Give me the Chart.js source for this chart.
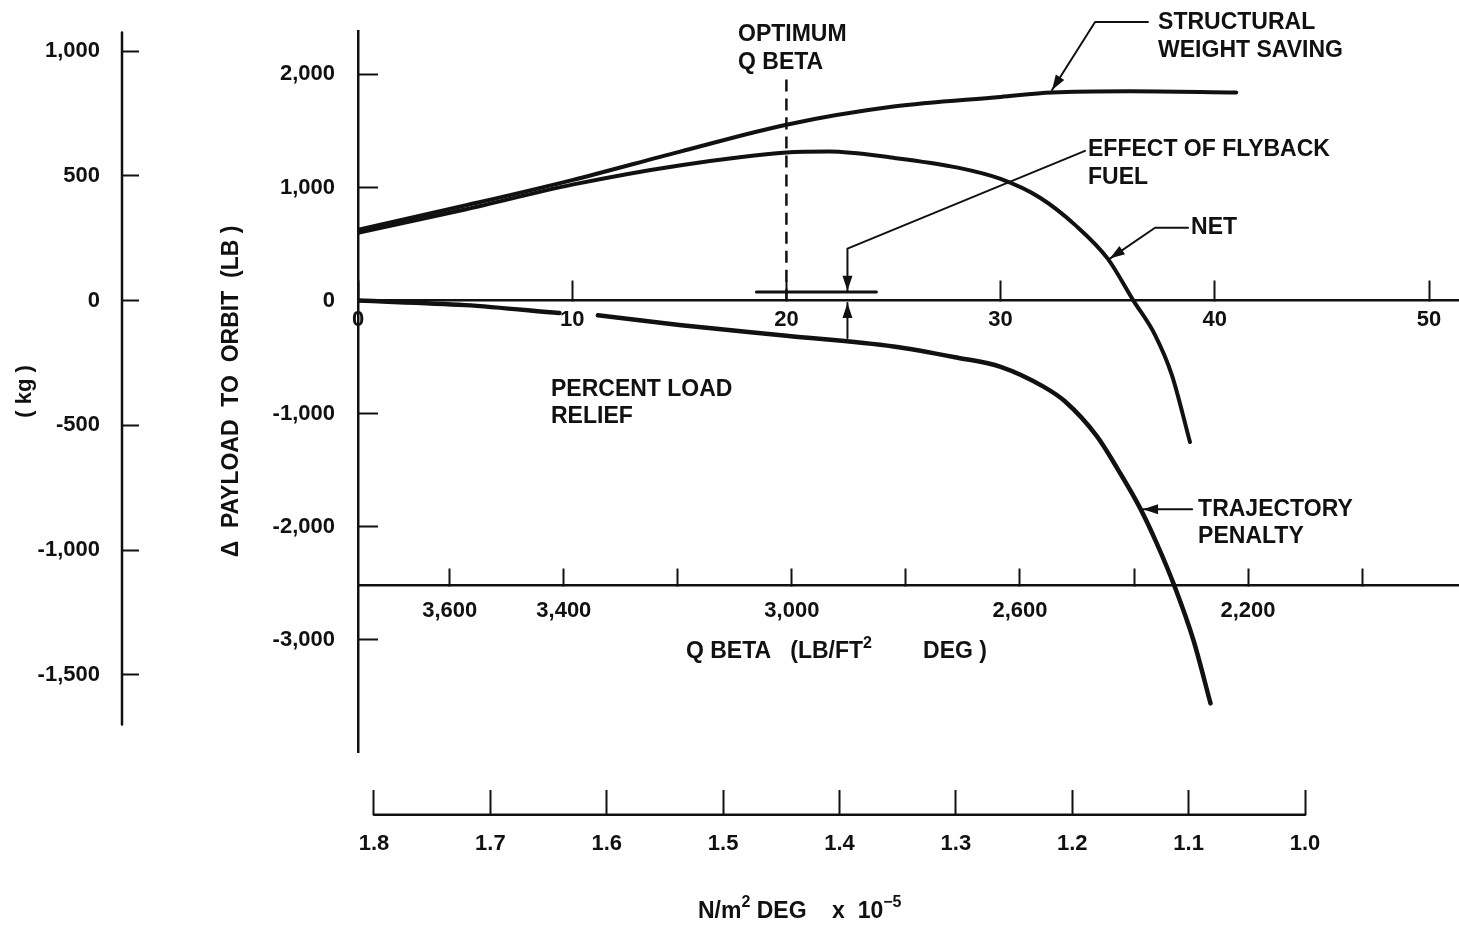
<!DOCTYPE html>
<html>
<head>
<meta charset="utf-8">
<title>Payload to orbit vs percent load relief</title>
<script src="https://cdn.jsdelivr.net/npm/chart.js@4.4.1/dist/chart.umd.min.js"></script>
<style>
    html, body { margin: 0; padding: 0; background: #fff; }
    #wrap { width: 1459px; height: 927px; }
</style>
</head>
<body>
<div id="wrap"><canvas id="payloadChart"></canvas></div>
<script>
const FONT = "'Liberation Sans', Arial, Helvetica, sans-serif";
const INK = '#111111';
const LB_PER_KG = 2.2046;

// curves: percent load relief -> delta payload (lb)
const structuralPct = [0, 5, 10, 15, 20, 25, 30, 32.4, 36, 41];
const structuralLb  = [625, 840, 1065, 1315, 1555, 1715, 1800, 1840, 1850, 1840];

const netPct = [0, 5, 10, 15, 20, 22, 25, 28, 30, 31.84, 33.5, 35, 36.2, 37.2, 38, 38.84];
const netLb  = [600, 805, 1025, 1195, 1310, 1318, 1262, 1175, 1075, 909, 665, 371, 0, -300, -660, -1250];

// gap near 10 % where the printed tick label breaks the curve
const trajectoryPct = [0, 5, 9.4, 10.3, 11.2, 15, 20, 25, 28, 30, 32, 33, 34.5, 35.5, 36.5, 37.3, 38.1, 39, 39.8];
const trajectoryLb  = [0, -40, -110, null, -130, -215, -310, -405, -505, -585, -760, -890, -1200, -1500, -1830, -2150, -2515, -3000, -3560];

// optimum Q beta marker and flyback fuel band
const optimumPct = 20;
const optimumLb = [0, 1980];
const flybackPct = [18.6, 24.2];
const flybackLb = 75;

// tick lists
const reliefTicks = [0, 10, 20, 30, 40, 50];
const lbTicks = [2000, 1000, 0, -1000, -2000, -3000];
const kgTicks = [1000, 500, 0, -500, -1000, -1500];
const qBetaTicks = [3600, 3400, 3200, 3000, 2800, 2600, 2400, 2200, 2000];
const qBetaLabelled = [3600, 3400, 3000, 2600, 2200];
const nmTicks = [1.8, 1.7, 1.6, 1.5, 1.4, 1.3, 1.2, 1.1, 1.0];

// scale ranges (Q beta and N/m2 run right to left)
const reliefRange = [0, 51.4];
const lbRange = [-3990, 2383];
const qBetaRange = [1830, 3761];
const nmRange = [0.8677, 1.8137];
const qBetaAxisAt = -2515;   // lb level of the Q beta scale
const nmAxisAt = -4545;      // lb level of the N/m2 scale
const kgAxisSpan = [1075, -1700];

const fmt = v => v.toLocaleString('en-US');
const toPoints = (xs, ys) => xs.map((x, i) => ({ x: x, y: ys[i] }));

// ticks pointing into the plot, no grid
function tickGrid(len) {
    return { drawOnChartArea: false, drawTicks: true, tickLength: -len, tickWidth: 2, tickColor: INK };
}
function fixedTicks(list) {
    return scale => { scale.ticks = list.map(v => ({ value: v })); };
}
// keep the layout from adding label padding; optional fixed width for left axes
function trimScale(width) {
    return scale => {
        if (width) scale.width = width;
        scale.paddingLeft = scale.paddingRight = scale.paddingTop = scale.paddingBottom = 0;
    };
}

function curve(points, width) {
    return {
        data: points,
        borderColor: INK,
        borderWidth: width || 4,
        pointRadius: 0,
        fill: false,
        cubicInterpolationMode: 'monotone',
        borderCapStyle: 'round',
        spanGaps: false
    };
}

// helpers for the annotation plugin
function polyline(ctx, pts, width) {
    ctx.lineWidth = width;
    ctx.beginPath();
    pts.forEach((p, i) => i ? ctx.lineTo(p[0], p[1]) : ctx.moveTo(p[0], p[1]));
    ctx.stroke();
}
function arrowHead(ctx, from, to) {
    const a = Math.atan2(to[1] - from[1], to[0] - from[0]);
    const len = 15, half = 5;
    ctx.beginPath();
    ctx.moveTo(to[0], to[1]);
    ctx.lineTo(to[0] - len * Math.cos(a) + half * Math.sin(a), to[1] - len * Math.sin(a) - half * Math.cos(a));
    ctx.lineTo(to[0] - len * Math.cos(a) - half * Math.sin(a), to[1] - len * Math.sin(a) + half * Math.cos(a));
    ctx.closePath();
    ctx.fill();
}
function drawPieces(ctx, x, y, pieces) {
    pieces.forEach(([text, sup]) => {
        ctx.font = `bold ${sup ? 16 : 23}px ${FONT}`;
        ctx.fillText(text, x, sup ? y - 9 : y);
        x += ctx.measureText(text).width;
    });
}

// text notes, in (percent, lb) of their first line
const notes = [
    { lines: ['OPTIMUM', 'Q BETA'], at: [17.74, 2348] },
    { lines: ['STRUCTURAL', 'WEIGHT SAVING'], at: [37.35, 2454] },
    { lines: ['EFFECT OF FLYBACK', 'FUEL'], at: [34.08, 1333] },
    { lines: ['NET'], at: [38.89, 644] },
    { lines: ['TRAJECTORY', 'PENALTY'], at: [39.22, -1845] },
    { lines: ['PERCENT LOAD', 'RELIEF'], at: [9.01, -786] }
];
// leader lines ending in an arrow
const leaders = [
    [[36.88, 2462], [34.41, 2462], [32.4, 1862]],
    [[33.94, 1324], [22.85, 459], [22.85, 88]],
    [[22.85, -330], [22.85, -22]],
    [[38.75, 644], [37.21, 644], [35.1, 371]],
    [[38.94, -1845], [36.65, -1845]]
];

const annotationPlugin = {
    id: 'annotations',
    afterDraw(chart) {
        const { ctx, scales } = chart;
        const X = v => scales.x.getPixelForValue(v);
        const Y = v => scales.y.getPixelForValue(v);
        const P = p => [X(p[0]), Y(p[1])];

        ctx.save();
        ctx.strokeStyle = INK;
        ctx.fillStyle = INK;
        ctx.lineCap = 'round';
        ctx.lineJoin = 'round';

        // kg axis line (shorter than the lb one)
        const kgX = scales.kg.right;
        polyline(ctx, [[kgX, scales.kg.getPixelForValue(kgAxisSpan[0])],
                       [kgX, scales.kg.getPixelForValue(kgAxisSpan[1])]], 2.5);

        // N/m2 axis line between its end ticks
        const nmY = Y(nmAxisAt);
        polyline(ctx, [[scales.nm.getPixelForValue(nmTicks[0]), nmY],
                       [scales.nm.getPixelForValue(nmTicks[nmTicks.length - 1]), nmY]], 2.5);

        // leaders and arrows
        leaders.forEach(l => {
            const pts = l.map(P);
            polyline(ctx, pts, 2);
            arrowHead(ctx, pts[pts.length - 2], pts[pts.length - 1]);
        });

        // notes
        ctx.textAlign = 'left';
        ctx.textBaseline = 'middle';
        ctx.font = `bold 23px ${FONT}`;
        notes.forEach(n => {
            const [x, y] = P(n.at);
            n.lines.forEach((t, i) => ctx.fillText(t, x, y + i * 27.5));
        });

        // axis titles with superscripts
        const q = P([15.31, -3107]);
        drawPieces(ctx, q[0], q[1], [['Q BETA   (LB/FT'], ['2', true], ['        DEG )']]);
        const n = P([15.87, -5400]);
        drawPieces(ctx, n[0], n[1], [['N/m'], ['2', true], [' DEG    x  10'], ['\u22125', true]]);

        ctx.restore();
    }
};

function createPayloadChart() {
    const ctx = document.getElementById('payloadChart');
    const tickFont = { family: FONT, size: 22, weight: 'bold' };
    const axisBorder = { color: INK, width: 2.5 };

    new Chart(ctx, {
        type: 'line',
        data: {
            datasets: [
                curve(toPoints(structuralPct, structuralLb)),
                curve(toPoints(netPct, netLb)),
                curve(toPoints(trajectoryPct, trajectoryLb), 4.5),
                Object.assign(curve(optimumLb.map(v => ({ x: optimumPct, y: v })), 2.5),
                              { borderDash: [12, 7], borderCapStyle: 'butt' }),
                curve(flybackPct.map(v => ({ x: v, y: flybackLb })), 3)
            ]
        },
        options: {
            responsive: true,
            maintainAspectRatio: false,
            animation: false,
            layout: { autoPadding: false, padding: { left: 10, top: 31, right: 0, bottom: 175 } },
            plugins: { legend: { display: false }, tooltip: { enabled: false } },
            scales: {
                x: {
                    type: 'linear',
                    position: { y: 0 },
                    min: reliefRange[0], max: reliefRange[1],
                    grid: tickGrid(21),
                    border: axisBorder,
                    ticks: { padding: 27, color: INK, font: tickFont, autoSkip: false, maxRotation: 0,
                             callback: v => String(v) },
                    afterBuildTicks: fixedTicks(reliefTicks),
                    afterFit: trimScale()
                },
                qbeta: {
                    type: 'linear',
                    axis: 'x',
                    position: { y: qBetaAxisAt },
                    reverse: true,
                    min: qBetaRange[0], max: qBetaRange[1],
                    grid: tickGrid(18),
                    border: axisBorder,
                    ticks: { padding: 31, color: INK, font: tickFont, autoSkip: false, maxRotation: 0,
                             callback: v => qBetaLabelled.includes(v) ? fmt(v) : '' },
                    afterBuildTicks: fixedTicks(qBetaTicks),
                    afterFit: trimScale()
                },
                nm: {
                    type: 'linear',
                    axis: 'x',
                    position: { y: nmAxisAt },
                    reverse: true,
                    min: nmRange[0], max: nmRange[1],
                    grid: tickGrid(25),
                    border: { display: false },
                    ticks: { padding: 41, color: INK, font: tickFont, autoSkip: false, maxRotation: 0,
                             callback: v => v.toFixed(1) },
                    afterBuildTicks: fixedTicks(nmTicks),
                    afterFit: trimScale()
                },
                y: {
                    type: 'linear',
                    position: 'left',
                    weight: 0,
                    min: lbRange[0], max: lbRange[1],
                    grid: tickGrid(20),
                    border: axisBorder,
                    ticks: { padding: 43, color: INK, font: tickFont, callback: fmt },
                    title: { display: true, text: '\u0394  PAYLOAD  TO  ORBIT  (LB )', color: INK,
                             font: { family: FONT, size: 23, weight: 'bold' }, padding: { top: 96 } },
                    afterBuildTicks: fixedTicks(lbTicks),
                    afterFit: trimScale(236)
                },
                kg: {
                    type: 'linear',
                    position: 'left',
                    weight: 1,
                    min: lbRange[0] / LB_PER_KG, max: lbRange[1] / LB_PER_KG,
                    grid: tickGrid(17),
                    border: { display: false },
                    ticks: { padding: 39, color: INK, font: tickFont, callback: fmt },
                    title: { display: true, text: '( kg )', color: INK,
                             font: { family: FONT, size: 22, weight: 'bold' }, padding: { top: 2 } },
                    afterBuildTicks: fixedTicks(kgTicks),
                    afterFit: trimScale(112)
                }
            }
        },
        plugins: [annotationPlugin]
    });
}

createPayloadChart();
</script>
</body>
</html>
